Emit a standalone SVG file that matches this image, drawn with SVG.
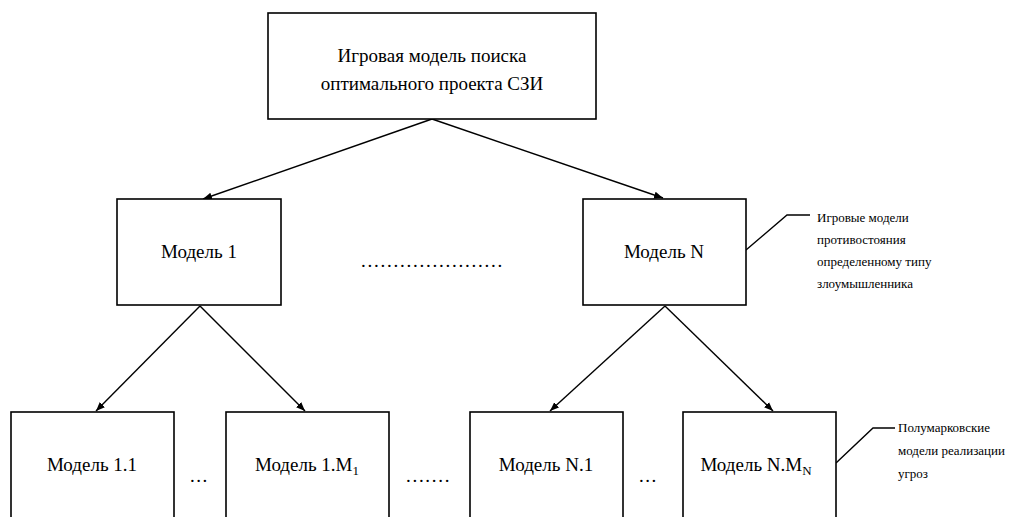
<svg xmlns="http://www.w3.org/2000/svg" width="1015" height="517" viewBox="0 0 1015 517">
<defs>
<style>
.box{fill:#fff;stroke:#000;stroke-width:1.6}
.t{font-family:"Liberation Serif","Times New Roman",serif;font-size:19px;fill:#000;text-anchor:middle}
.c{font-family:"Liberation Serif","Times New Roman",serif;font-size:13px;fill:#000}
.dots{font-family:"Liberation Serif","Times New Roman",serif;font-size:19px;fill:#000}
.ln{stroke:#000;stroke-width:1.4;fill:none}
</style>
<marker id="ah" viewBox="0 0 10 10" refX="10" refY="5" markerWidth="9" markerHeight="9" markerUnits="userSpaceOnUse" orient="auto">
<path d="M0,1 L10,5 L0,9 Z" fill="#000"/>
</marker>
</defs>
<rect width="1015" height="517" fill="#fff"/>
<g id="connectors">
<line class="ln" x1="432" y1="119" x2="203" y2="199" marker-end="url(#ah)"/>
<line class="ln" x1="432" y1="119" x2="663" y2="198" marker-end="url(#ah)"/>
<line class="ln" x1="200" y1="306" x2="96" y2="411" marker-end="url(#ah)"/>
<line class="ln" x1="200" y1="306" x2="305" y2="411" marker-end="url(#ah)"/>
<line class="ln" x1="665" y1="306" x2="550" y2="411" marker-end="url(#ah)"/>
<line class="ln" x1="665" y1="306" x2="773" y2="411" marker-end="url(#ah)"/>
<polyline class="ln" points="746,250 787,215 810,215"/>
<polyline class="ln" points="836,463 873,428 895,428"/>
</g>
<g id="root">
<rect class="box" x="268" y="13" width="328" height="106"/>
<text class="t" x="432" y="62">Игровая модель поиска</text>
<text class="t" x="432" y="90">оптимального проекта СЗИ</text>
</g>
<g id="model1">
<rect class="box" x="117" y="199" width="164" height="106"/>
<text class="t" x="199" y="258">Модель 1</text>
</g>
<g id="modelN">
<rect class="box" x="583" y="199" width="163" height="106"/>
<text class="t" x="664" y="258">Модель N</text>
</g>
<g id="model1-1">
<rect class="box" x="11" y="412" width="163" height="120"/>
<text class="t" x="92" y="471">Модель 1.1</text>
</g>
<g id="model1-M1">
<rect class="box" x="226" y="412" width="163" height="120"/>
<text class="t" x="307" y="471">Модель 1.M<tspan font-size="13" dy="4">1</tspan></text>
</g>
<g id="modelN-1">
<rect class="box" x="470" y="412" width="153" height="120"/>
<text class="t" x="546" y="471">Модель N.1</text>
</g>
<g id="modelN-MN">
<rect class="box" x="683" y="412" width="153" height="120"/>
<text class="t" x="756" y="471">Модель N.M<tspan font-size="13" dy="4">N</tspan></text>
</g>
<g id="ellipses">
<text class="dots" x="361" y="267" letter-spacing="1.75">......................</text>
<text class="dots" x="190" y="482" letter-spacing="1.5">...</text>
<text class="dots" x="406" y="482" letter-spacing="1.7">.......</text>
<text class="dots" x="639" y="482" letter-spacing="1.5">...</text>
</g>
<g id="note-game">
<text class="c" x="817" y="222">Игровые модели</text>
<text class="c" x="817" y="244">противостояния</text>
<text class="c" x="817" y="266">определенному типу</text>
<text class="c" x="817" y="288">злоумышленника</text>
</g>
<g id="note-semi">
<text class="c" x="898" y="432">Полумарковские</text>
<text class="c" x="898" y="455">модели реализации</text>
<text class="c" x="898" y="478">угроз</text>
</g>
</svg>
